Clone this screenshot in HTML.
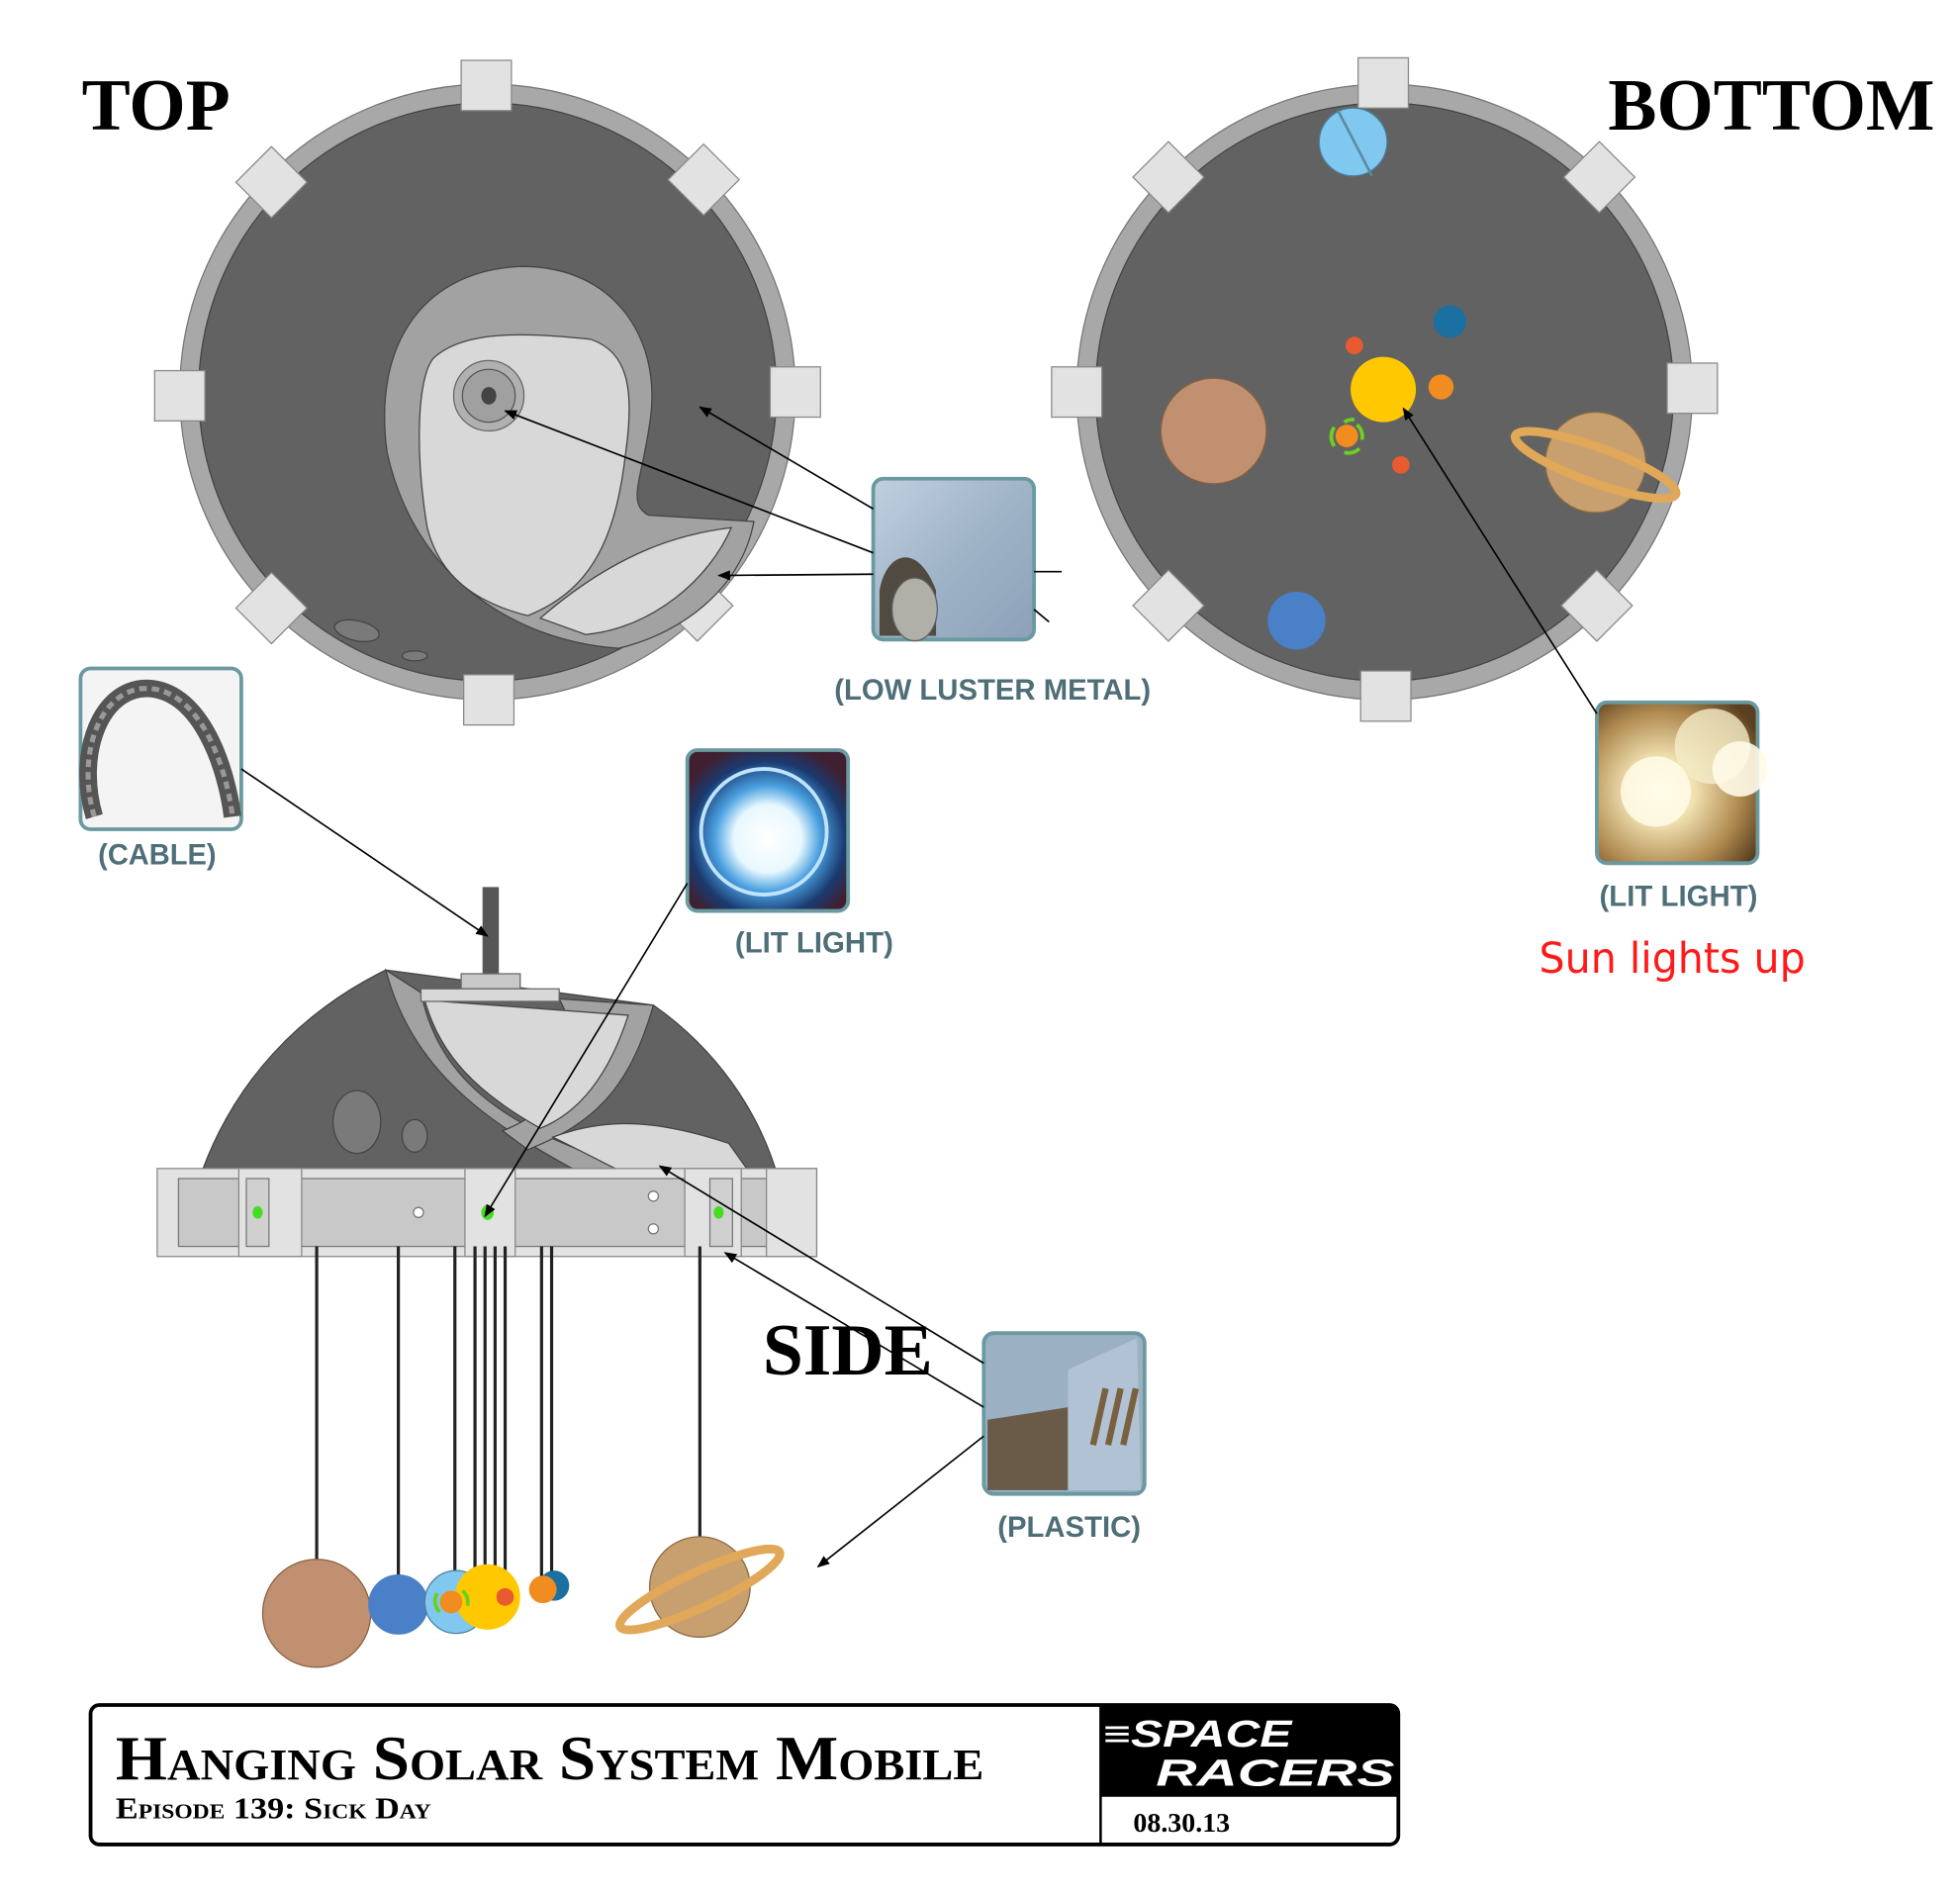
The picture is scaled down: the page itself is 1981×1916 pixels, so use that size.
<!DOCTYPE html>
<html><head><meta charset="utf-8"><style>
html,body{margin:0;padding:0;background:#fff}
svg{display:block}
.lbl{font-family:"Liberation Sans",sans-serif;font-weight:bold;font-size:23px;fill:#4e6e78;text-anchor:middle}
.big{font-family:"Liberation Serif",serif;font-weight:bold;font-size:58px;fill:#000}
</style></head><body>
<svg width="1981" height="1916" viewBox="0 0 1560 1509" xmlns="http://www.w3.org/2000/svg">
<defs>
<marker id="ar" markerWidth="10" markerHeight="8" refX="9" refY="4" orient="auto" markerUnits="userSpaceOnUse"><path d="M0,0 L10,4 L0,8 z" fill="#000"/></marker>
<g id="tab"><rect x="-20" y="-20" width="40" height="40" fill="#e2e2e2" stroke="#888" stroke-width="1"/></g>
<radialGradient id="lit1" cx="0.5" cy="0.55" r="0.6"><stop offset="0" stop-color="#fff"/><stop offset="0.35" stop-color="#e8f8ff"/><stop offset="0.55" stop-color="#4aa0e0"/><stop offset="0.8" stop-color="#1a3a70"/><stop offset="1" stop-color="#402030"/></radialGradient>
<radialGradient id="lit2" cx="0.4" cy="0.55" r="0.7"><stop offset="0" stop-color="#fffbe8"/><stop offset="0.3" stop-color="#f0e0b0"/><stop offset="0.7" stop-color="#b08a50"/><stop offset="1" stop-color="#5a4020"/></radialGradient>
<linearGradient id="metal" x1="0" y1="0" x2="1" y2="1"><stop offset="0" stop-color="#c0d0e0"/><stop offset="0.5" stop-color="#a0b4c8"/><stop offset="1" stop-color="#8ca0b8"/></linearGradient>
</defs>

<!-- TOP view -->
<text class="big" x="65" y="103">TOP</text>
<circle cx="388" cy="312" r="245" fill="#a8a8a8" stroke="#777"/>
<circle cx="388" cy="312" r="230" fill="#626262" stroke="#444"/>
<use href="#tab" transform="translate(387,68)"/>
<use href="#tab" transform="translate(389,557)"/>
<use href="#tab" transform="translate(143,315)"/>
<use href="#tab" transform="translate(633,312)"/>
<use href="#tab" transform="translate(216,145) rotate(45)"/>
<use href="#tab" transform="translate(560,143) rotate(45)"/>
<use href="#tab" transform="translate(216,484) rotate(45)"/>
<use href="#tab" transform="translate(555,482) rotate(45)"/>
<path d="M492,516 C410,510 330,460 308,360 C296,270 340,215 415,212 C490,212 525,270 518,330 C512,380 498,400 516,410 L600,415 C590,470 540,505 492,516 Z" fill="#a2a2a2" stroke="#444" stroke-width="1"/>
<path d="M340,420 C330,360 332,300 345,285 C370,262 420,265 470,270 C500,280 505,310 498,360 C490,430 470,470 420,490 C380,480 350,460 340,420 Z" fill="#d8d8d8" stroke="#444" stroke-width="1"/>
<path d="M430,492 C490,440 540,425 582,420 C565,460 520,500 466,505 Z" fill="#d8d8d8" stroke="#444" stroke-width="1"/>
<circle cx="389" cy="315" r="28" fill="#b0b0b0" stroke="#666"/>
<circle cx="389" cy="315" r="21" fill="#a0a0a0" stroke="#555"/>
<ellipse cx="389" cy="315" rx="6" ry="7" fill="#444"/>
<ellipse cx="284" cy="502" rx="18" ry="8" fill="#7a7a7a" stroke="#444" transform="rotate(12 284 502)"/>
<ellipse cx="330" cy="522" rx="10" ry="4" fill="#7a7a7a" stroke="#444"/>

<!-- BOTTOM view -->
<text class="big" x="1280" y="103">BOTTOM</text>
<circle cx="1102" cy="312" r="245" fill="#a8a8a8" stroke="#777"/>
<circle cx="1102" cy="312" r="230" fill="#626262" stroke="#444"/>
<use href="#tab" transform="translate(1101,66)"/>
<use href="#tab" transform="translate(1103,554)"/>
<use href="#tab" transform="translate(857,312)"/>
<use href="#tab" transform="translate(1347,309)"/>
<use href="#tab" transform="translate(930,141) rotate(45)"/>
<use href="#tab" transform="translate(1273,141) rotate(45)"/>
<use href="#tab" transform="translate(930,482) rotate(45)"/>
<use href="#tab" transform="translate(1271,482) rotate(45)"/>
<circle cx="1077" cy="113" r="27" fill="#80c8f0" stroke="#4a80a0"/>
<line x1="1065" y1="88" x2="1092" y2="140" stroke="#5a8aa0" stroke-width="2"/>
<circle cx="1154" cy="256" r="13" fill="#1a70a0"/>
<circle cx="1078" cy="275" r="7" fill="#e85a30"/>
<circle cx="1101" cy="310" r="26" fill="#ffc800"/>
<circle cx="1147" cy="308" r="10" fill="#f08c20"/>
<circle cx="1072" cy="347" r="9" fill="#f08c20"/>
<path d="M1062,340 A13,13 0 0 0 1062,355 M1080,338 A12,12 0 0 1 1084,350 M1070,336 A12,12 0 0 1 1078,334 M1070,360 A12,12 0 0 0 1082,357" stroke="#6cd020" stroke-width="3" fill="none"/>
<circle cx="1115" cy="370" r="7" fill="#e85a30"/>
<circle cx="966" cy="343" r="42" fill="#c09070" stroke="#8a6040"/>
<circle cx="1270" cy="368" r="40" fill="#c8a070" stroke="#8a6a40"/>
<ellipse cx="1270" cy="370" rx="68" ry="14" fill="none" stroke="#e0a858" stroke-width="7" transform="rotate(20 1270 370)"/>
<circle cx="1032" cy="494" r="23" fill="#4a80c8"/>

<!-- thumbnails -->
<rect x="695" y="381" width="128" height="128" rx="8" fill="url(#metal)" stroke="#6a9aa0" stroke-width="3"/>
<path d="M700,470 C705,440 730,430 745,470 L745,506 L700,506 Z" fill="#504a40"/>
<ellipse cx="728" cy="485" rx="18" ry="25" fill="#b0b0a8" stroke="#606060"/>
<text class="lbl" x="790" y="557" textLength="252" lengthAdjust="spacingAndGlyphs">(LOW LUSTER METAL)</text>
<line x1="823" y1="455" x2="845" y2="455" stroke="#000" stroke-width="1.3"/>
<line x1="823" y1="485" x2="835" y2="495" stroke="#000" stroke-width="1.3"/>

<rect x="64" y="532" width="128" height="128" rx="8" fill="#f4f4f4" stroke="#6a9aa0" stroke-width="3"/>
<path d="M75,650 C60,600 80,545 120,548 C160,552 180,610 185,650" fill="none" stroke="#555" stroke-width="14"/>
<path d="M75,650 C60,600 80,545 120,548 C160,552 180,610 185,650" fill="none" stroke="#999" stroke-width="4" stroke-dasharray="6 4"/>
<text class="lbl" x="125" y="688" textLength="94" lengthAdjust="spacingAndGlyphs">(CABLE)</text>

<rect x="547" y="597" width="128" height="128" rx="8" fill="url(#lit1)" stroke="#6a9aa0" stroke-width="3"/>
<circle cx="608" cy="662" r="50" fill="none" stroke="#bfe4ff" stroke-width="3"/>
<text class="lbl" x="648" y="758" textLength="126" lengthAdjust="spacingAndGlyphs">(LIT LIGHT)</text>

<rect x="1271" y="559" width="128" height="128" rx="8" fill="url(#lit2)" stroke="#6a9aa0" stroke-width="3"/>
<circle cx="1363" cy="594" r="30" fill="#f4ecc8" opacity="0.8"/>
<circle cx="1385" cy="612" r="22" fill="#fffbe8" opacity="0.9"/>
<circle cx="1318" cy="630" r="28" fill="#fffbe8" opacity="0.85"/>
<text class="lbl" x="1336" y="721" textLength="126" lengthAdjust="spacingAndGlyphs">(LIT LIGHT)</text>
<text x="1225" y="774" font-family="'DejaVu Sans',sans-serif" font-size="34" fill="#ff1a1a" textLength="212" lengthAdjust="spacingAndGlyphs">Sun lights up</text>

<rect x="783" y="1061" width="128" height="128" rx="8" fill="#9cb0c4" stroke="#6a9aa0" stroke-width="3"/>
<path d="M786,1130 L850,1120 L850,1186 L786,1186 Z" fill="#6a5a48"/>
<path d="M850,1090 L905,1065 L908,1186 L850,1186 Z" fill="#b0c2d4"/>
<path d="M870,1150 l10,-45 M882,1150 l10,-45 M894,1150 l10,-45" stroke="#7a6040" stroke-width="5"/>
<text class="lbl" x="851" y="1223" textLength="114" lengthAdjust="spacingAndGlyphs">(PLASTIC)</text>

<!-- SIDE view -->
<rect x="384" y="706" width="13" height="70" fill="#555"/>
<path d="M158,940 C185,860 240,805 307,772 L520,800 C570,835 605,885 620,940 Z" fill="#626262" stroke="#444"/>
<path d="M307,772 L335,790 C350,860 400,900 520,935 L470,938 C400,900 330,860 307,772 Z" fill="#a2a2a2" stroke="#444"/>
<path d="M445,795 L520,800 C500,870 470,895 420,915 L400,900 C450,880 470,840 445,795 Z" fill="#a2a2a2" stroke="#444"/>
<path d="M338,796 L500,808 C480,870 450,890 430,898 C380,870 350,840 338,796 Z" fill="#d8d8d8" stroke="#444"/>
<path d="M440,905 C480,890 520,890 580,910 L600,938 L505,938 C480,925 460,915 440,905 Z" fill="#d8d8d8" stroke="#444"/>
<rect x="367" y="775" width="47" height="12" fill="#c8c8c8" stroke="#666"/>
<rect x="335" y="787" width="110" height="10" fill="#d8d8d8" stroke="#666"/>
<ellipse cx="284" cy="893" rx="19" ry="25" fill="#7a7a7a" stroke="#444"/>
<ellipse cx="330" cy="904" rx="10" ry="13" fill="#7a7a7a" stroke="#444"/>
<rect x="125" y="930" width="525" height="70" fill="#e2e2e2" stroke="#888"/>
<rect x="142" y="938" width="490" height="54" fill="#c8c8c8" stroke="#777"/>
<rect x="190" y="930" width="50" height="70" fill="#e2e2e2" stroke="#888"/>
<rect x="196" y="938" width="18" height="54" fill="#d0d0d0" stroke="#777"/>
<rect x="370" y="930" width="40" height="70" fill="#e2e2e2" stroke="#888"/>
<rect x="545" y="930" width="45" height="70" fill="#e2e2e2" stroke="#888"/>
<rect x="565" y="938" width="18" height="54" fill="#d0d0d0" stroke="#777"/>
<rect x="610" y="930" width="40" height="70" fill="#e2e2e2" stroke="#888"/>
<ellipse cx="205" cy="965" rx="4" ry="5" fill="#44dd22"/>
<ellipse cx="388" cy="965" rx="5" ry="6" fill="#44dd22"/>
<ellipse cx="572" cy="965" rx="4" ry="5" fill="#44dd22"/>
<circle cx="333" cy="965" r="4" fill="#fff" stroke="#777"/>
<circle cx="520" cy="952" r="4" fill="#fff" stroke="#777"/>
<circle cx="520" cy="978" r="4" fill="#fff" stroke="#777"/>
<g stroke="#222" stroke-width="2.5">
<line x1="252" y1="992" x2="252" y2="1245"/><line x1="317" y1="992" x2="317" y2="1255"/>
<line x1="362" y1="992" x2="362" y2="1252"/><line x1="378" y1="992" x2="378" y2="1250"/>
<line x1="386" y1="992" x2="386" y2="1250"/><line x1="394" y1="992" x2="394" y2="1250"/>
<line x1="402" y1="992" x2="402" y2="1250"/><line x1="431" y1="992" x2="431" y2="1255"/>
<line x1="439" y1="992" x2="439" y2="1252"/><line x1="557" y1="992" x2="557" y2="1225"/>
</g>
<circle cx="252" cy="1284" r="43" fill="#c09070" stroke="#8a6040"/>
<circle cx="317" cy="1277" r="24" fill="#4a80c8"/>
<circle cx="363" cy="1275" r="25" fill="#80c8f0" stroke="#4a80a0"/>
<circle cx="388" cy="1271" r="26" fill="#ffc800"/>
<circle cx="402" cy="1271" r="7" fill="#e85a30"/>
<circle cx="359" cy="1275" r="9" fill="#f08c20"/>
<path d="M348,1268 A12,12 0 0 0 350,1283 M368,1266 A12,12 0 0 1 372,1278" stroke="#6cd020" stroke-width="3" fill="none"/>
<circle cx="441" cy="1262" r="12" fill="#1a70a0"/>
<circle cx="432" cy="1265" r="11" fill="#f08c20"/>
<circle cx="557" cy="1263" r="40" fill="#c8a070" stroke="#8a6a40"/>
<ellipse cx="557" cy="1265" rx="70" ry="14" fill="none" stroke="#e0a858" stroke-width="7" transform="rotate(-25 557 1265)"/>
<text class="big" x="607" y="1094">SIDE</text>

<!-- connectors -->
<g stroke="#000" stroke-width="1.3" fill="none" marker-end="url(#ar)">
<line x1="695" y1="405" x2="557" y2="324"/>
<line x1="695" y1="440" x2="402" y2="327"/>
<line x1="695" y1="457" x2="572" y2="458"/>
<line x1="1271" y1="568" x2="1117" y2="325"/>
<line x1="192" y1="612" x2="388" y2="745"/>
<line x1="547" y1="703" x2="386" y2="968"/>
<line x1="783" y1="1085" x2="525" y2="928"/>
<line x1="783" y1="1120" x2="577" y2="997"/>
<line x1="783" y1="1143" x2="651" y2="1247"/>
</g>

<!-- title block -->
<rect x="72" y="1357" width="1041" height="111" rx="7" fill="#fff" stroke="#000" stroke-width="3"/>
<path d="M876,1357 H1106 a7,7 0 0 1 7,7 V1430 H876 Z" fill="#000"/>
<line x1="876" y1="1357" x2="876" y2="1468" stroke="#000" stroke-width="2"/>
<text x="878" y="1390" font-family="'Liberation Sans',sans-serif" font-weight="bold" font-style="italic" font-size="30" fill="#fff" textLength="150" lengthAdjust="spacingAndGlyphs">≡SPACE</text>
<text x="920" y="1421" font-family="'Liberation Sans',sans-serif" font-weight="bold" font-style="italic" font-size="30" fill="#fff" textLength="190" lengthAdjust="spacingAndGlyphs">RACERS</text>
<text x="902" y="1458" font-family="'Liberation Serif',serif" font-weight="bold" font-size="22">08.30.13</text>
<text x="92" y="1416" font-family="'Liberation Serif',serif" font-weight="bold" font-size="50" style="font-variant:small-caps" textLength="691" lengthAdjust="spacingAndGlyphs">Hanging Solar System Mobile</text>
<text x="92" y="1447" font-family="'Liberation Serif',serif" font-weight="bold" font-size="24" style="font-variant:small-caps" textLength="251" lengthAdjust="spacingAndGlyphs">Episode 139: Sick Day</text>
</svg>
</body></html>
